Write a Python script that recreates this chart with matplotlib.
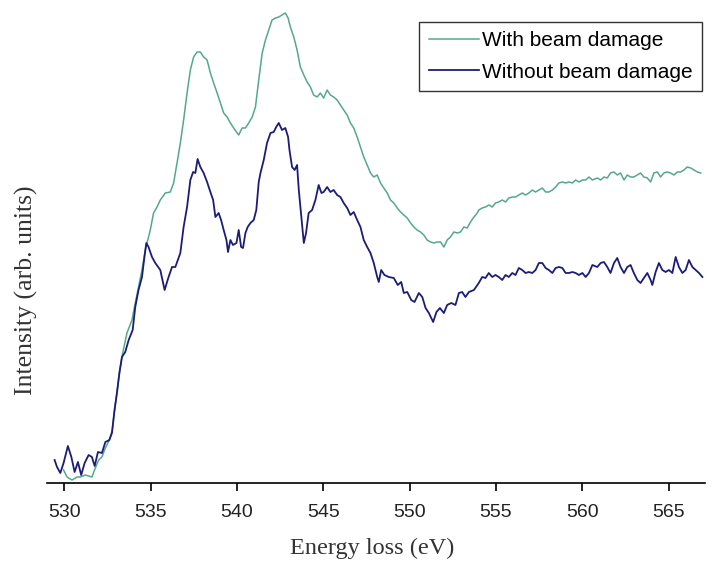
import numpy as np
import matplotlib
matplotlib.use("Agg")
import matplotlib.pyplot as plt

# energy loss (eV) and intensity (arb. units)
e_without = [529.44, 529.58, 529.77, 529.96, 530.21, 530.41, 530.60, 530.79, 530.98, 531.18,
             531.41, 531.60, 531.76, 531.95, 532.18, 532.38, 532.61, 532.76, 532.91, 533.05,
             533.19, 533.34, 533.53, 533.73, 533.96, 534.11, 534.30, 534.50, 534.62, 534.75,
             534.88, 535.08, 535.27, 535.56, 535.81, 536.04, 536.24, 536.43, 536.72, 536.91,
             537.11, 537.30, 537.46, 537.59, 537.72, 537.88, 538.07, 538.27, 538.46, 538.62,
             538.75, 538.94, 539.08, 539.23, 539.39, 539.48, 539.62, 539.77, 539.97, 540.10,
             540.24, 540.35, 540.49, 540.62, 540.78, 540.97, 541.12, 541.26, 541.36, 541.55,
             541.74, 541.94, 542.13, 542.27, 542.42, 542.61, 542.80, 542.96, 543.04, 543.19,
             543.34, 543.48, 543.58, 543.73, 543.87, 544.00, 544.15, 544.35, 544.54, 544.73,
             544.89, 545.02, 545.22, 545.41, 545.60, 545.80, 545.99, 546.18, 546.38, 546.57,
             546.76, 546.96, 547.15, 547.34, 547.54, 547.73, 547.92, 548.12, 548.21, 548.35,
             548.54, 548.79, 549.08, 549.31, 549.51, 549.66, 549.86, 550.09, 550.28, 550.53,
             550.73, 550.92, 551.11, 551.36, 551.55, 551.75, 551.98, 552.17, 552.41, 552.65,
             552.85, 553.04, 553.23, 553.43, 553.72, 554.00, 554.20, 554.39, 554.58, 554.78,
             554.97, 555.16, 555.36, 555.55, 555.74, 555.94, 556.13, 556.32, 556.52, 556.71,
             556.90, 557.10, 557.29, 557.48, 557.68, 557.87, 558.06, 558.26, 558.45, 558.64,
             558.84, 559.03, 559.22, 559.42, 559.61, 559.80, 560.00, 560.19, 560.38, 560.58,
             560.86, 561.06, 561.25, 561.44, 561.63, 561.83, 562.02, 562.21, 562.41, 562.60,
             562.79, 562.98, 563.18, 563.37, 563.56, 563.76, 563.95, 564.05, 564.24, 564.43,
             564.63, 564.82, 565.01, 565.21, 565.40, 565.59, 565.79, 565.98, 566.17, 566.37,
             566.56, 566.75, 566.95]
i_without = [23, 16, 10, 20, 37, 26, 11, 21, 8, 20,
             28, 26, 17, 31, 30, 41, 43, 50, 73, 90,
             110, 126, 131, 143, 153, 176, 193, 206, 223, 240,
             236, 226, 220, 213, 193, 206, 216, 216, 230, 256,
             276, 303, 311, 310, 324, 316, 310, 301, 291, 283,
             266, 270, 263, 253, 243, 231, 243, 238, 240, 253,
             236, 235, 250, 256, 260, 263, 273, 301, 310, 323,
             340, 350, 351, 356, 360, 353, 355, 346, 333, 316,
             313, 318, 293, 266, 240, 250, 270, 273, 283, 298,
             290, 291, 296, 291, 293, 288, 286, 280, 275, 268,
             271, 263, 256, 243, 236, 230, 220, 206, 201, 213,
             208, 206, 205, 198, 201, 190, 191, 183, 181, 190,
             186, 175, 170, 161, 171, 175, 170, 178, 180, 178,
             190, 191, 186, 191, 193, 200, 206, 205, 210, 206,
             208, 206, 203, 208, 206, 210, 208, 215, 213, 210,
             211, 210, 213, 220, 220, 215, 213, 210, 215, 216,
             215, 210, 210, 211, 210, 208, 210, 206, 210, 218,
             216, 220, 221, 216, 210, 220, 225, 216, 210, 216,
             218, 210, 203, 200, 205, 210, 203, 198, 211, 220,
             213, 211, 213, 210, 226, 216, 210, 213, 223, 216,
             213, 210, 206]

e_with = [529.96, 530.16, 530.45, 530.74, 530.93, 531.22, 531.60, 531.80, 531.99, 532.18,
          532.38, 532.61, 532.78, 532.93, 533.07, 533.22, 533.36, 533.63, 533.92, 534.11,
          534.30, 534.50, 534.69, 534.98, 535.17, 535.37, 535.56, 535.85, 536.14, 536.33,
          536.53, 536.72, 536.91, 537.11, 537.30, 537.49, 537.69, 537.88, 538.07, 538.27,
          538.46, 538.65, 538.85, 539.04, 539.23, 539.43, 539.62, 539.81, 539.97, 540.10,
          540.30, 540.49, 540.68, 540.88, 541.07, 541.26, 541.46, 541.65, 541.84, 542.03,
          542.23, 542.42, 542.61, 542.80, 542.96, 543.09, 543.29, 543.48, 543.67, 543.87,
          544.06, 544.25, 544.44, 544.64, 544.83, 545.02, 545.22, 545.41, 545.60, 545.80,
          545.99, 546.18, 546.38, 546.57, 546.76, 546.96, 547.15, 547.34, 547.54, 547.73,
          547.92, 548.12, 548.31, 548.50, 548.70, 548.89, 549.08, 549.28, 549.47, 549.66,
          549.86, 550.05, 550.24, 550.43, 550.63, 550.82, 551.01, 551.21, 551.40, 551.59,
          551.79, 551.98, 552.17, 552.36, 552.56, 552.75, 552.94, 553.14, 553.33, 553.52,
          553.72, 553.91, 554.00, 554.20, 554.39, 554.58, 554.78, 554.97, 555.16, 555.36,
          555.55, 555.74, 555.94, 556.13, 556.32, 556.52, 556.71, 556.90, 557.10, 557.29,
          557.48, 557.68, 557.87, 558.06, 558.26, 558.45, 558.64, 558.84, 559.03, 559.22,
          559.42, 559.61, 559.80, 560.00, 560.19, 560.38, 560.58, 560.86, 561.06, 561.25,
          561.44, 561.63, 561.83, 562.02, 562.21, 562.41, 562.60, 562.79, 562.98, 563.18,
          563.37, 563.56, 563.76, 563.95, 564.14, 564.34, 564.53, 564.72, 564.92, 565.11,
          565.30, 565.50, 565.69, 565.88, 566.07, 566.27, 566.46, 566.66, 566.85]
i_with = [13, 6, 3, 6, 6, 8, 6, 15, 23, 26,
          35, 43, 53, 75, 93, 113, 128, 150, 163, 180,
          196, 213, 233, 253, 270, 276, 283, 290, 291, 300,
          320, 340, 363, 390, 413, 426, 431, 431, 426, 423,
          410, 400, 390, 380, 370, 366, 360, 355, 351, 348,
          355, 355, 360, 366, 376, 403, 430, 443, 453, 463,
          465, 466, 468, 470, 465, 456, 446, 433, 416, 408,
          401, 396, 388, 386, 390, 385, 393, 388, 386, 383,
          378, 373, 368, 360, 355, 346, 336, 326, 318, 310,
          306, 308, 300, 295, 290, 283, 280, 275, 271, 268,
          265, 260, 256, 253, 251, 248, 243, 241, 240, 241,
          241, 236, 243, 246, 251, 250, 251, 256, 255, 261,
          266, 270, 273, 275, 276, 278, 276, 280, 281, 283,
          281, 285, 286, 286, 288, 290, 288, 290, 293, 291,
          293, 295, 291, 291, 293, 296, 300, 301, 300, 301,
          300, 303, 301, 303, 303, 306, 303, 305, 303, 306,
          305, 310, 311, 308, 310, 303, 308, 306, 306, 308,
          310, 306, 305, 301, 310, 311, 306, 310, 311, 310,
          308, 311, 311, 313, 316, 315, 313, 311, 310]

xticks = [530, 535, 540, 545, 550, 555, 560, 565]

fig = plt.figure(figsize=(7.13, 5.63), dpi=100)
ax = fig.add_axes([47 / 713, 80 / 563, 658 / 713, 483 / 563])

ax.plot(e_with, i_with, color="#55a88a", lw=1.1, label="With beam damage")
ax.plot(e_without, i_without, color="#1c1c78", lw=1.3, label="Without beam damage")

ax.set_xlim(529.0, 567.1)
ax.set_ylim(0, 483)
ax.set_xticks(xticks)
ax.set_yticks([])
for s in ["left", "top", "right"]:
    ax.spines[s].set_visible(False)
ax.spines["bottom"].set_linewidth(1.2)
ax.tick_params(axis="x", direction="out", length=6, width=1.2, pad=9,
               labelsize=14)
for lab in ax.get_xticklabels():
    lab.set_family("Liberation Sans")
    lab.set_color("#222222")

ax.set_xlabel("Energy loss (eV)", family="Liberation Serif", fontsize=17.5,
              color="#333333")
ax.xaxis.set_label_coords(0.494, -0.114)
ax.set_ylabel("Intensity (arb. units)", family="Liberation Serif", fontsize=18.5,
              color="#333333")
ax.yaxis.set_label_coords(-0.014, 0.40)

leg = ax.legend(loc="upper right", bbox_to_anchor=(0.995, 0.955), fancybox=False,
                framealpha=1, edgecolor="#333333", handlelength=2.4,
                handletextpad=0.15, borderpad=0.45, labelspacing=0.6,
                borderaxespad=0,
                prop={"family": "Liberation Sans", "size": 15})
leg.get_frame().set_linewidth(1.0)

fig.savefig("out.png", dpi=100)
